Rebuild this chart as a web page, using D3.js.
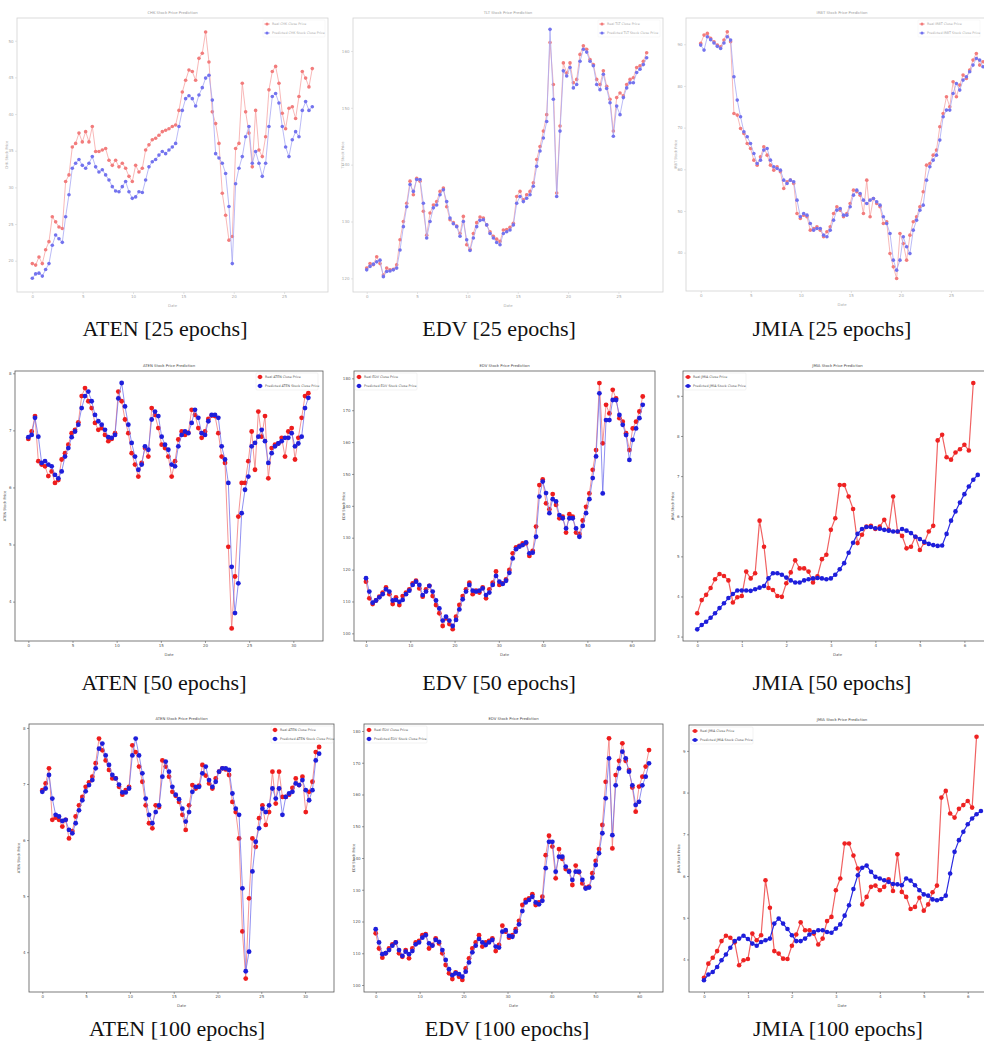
<!DOCTYPE html>
<html><head><meta charset="utf-8">
<script src="https://cdn.jsdelivr.net/npm/d3@7"></script>
<style>body{margin:0;background:#fff} svg{display:block}</style>
</head><body><svg id="c" width="984" height="1041"></svg>
<script>
// ---------- tick labels ----------
const xTicks25 = [0,5,10,15,20,25];
const xTicksATEN = [0,5,10,15,20,25,30];
const xTicksEDV = [0,10,20,30,40,50,60];
const xTicksJMIA = [0,1,2,3,4,5,6];
const yTicksCHK = [20,25,30,35,40,45,50];
const yTicksTLT = [120,130,140,150,160];
const yTicksIRBT = [40,50,60,70,80,90];
const yTicksATEN = [4,5,6,7,8];
const yTicksEDV = [100,110,120,130,140,150,160,170,180];
const yTicksJMIA50 = [3,4,5,6,7,8,9];
const yTicksJMIA100 = [4,5,6,7,8,9];

// ---------- series (values, evenly spaced dates) ----------
const aten25Real = [19.6,19.4,20.5,19.6,21.5,22.6,26.0,25.3,24.6,24.4,30.8,31.7,35.5,36.0,37.4,36.2,37.6,36.2,38.3,34.9,34.9,35.1,35.3,33.7,33.0,33.7,32.8,33.3,32.6,31.5,30.8,33.0,32.1,32.6,35.1,35.8,36.5,36.7,37.1,37.6,37.8,38.0,38.3,38.5,40.5,43.0,44.6,46.0,45.8,44.6,47.6,48.3,51.2,47.1,40.3,38.7,36.0,29.2,26.2,22.8,23.3,35.3,36.0,44.2,40.3,37.4,32.8,40.5,35.1,34.2,36.9,43.3,45.8,46.5,44.2,40.1,38.0,40.8,41.0,39.4,42.4,45.8,44.9,43.7,46.2];
const aten25Pred = [17.6,18.2,18.3,17.9,18.8,19.6,22.1,23.5,23.0,22.5,26.0,29.0,32.6,33.3,33.8,33.0,32.6,33.3,34.2,32.8,32.1,32.4,31.7,31.0,30.1,29.5,29.4,30.1,30.8,29.4,28.5,28.7,29.4,29.3,31.0,32.8,33.5,33.8,34.4,34.9,34.6,35.1,35.5,36.0,38.3,40.5,42.1,42.5,42.1,41.1,42.6,43.6,44.9,45.3,41.9,34.6,34.0,33.3,31.9,27.4,19.6,30.5,32.6,34.2,36.9,38.3,33.3,34.9,33.3,31.5,33.3,38.3,42.4,42.8,41.5,38.3,35.5,34.2,36.5,37.6,36.9,40.5,41.7,40.5,41.0];

const edv25Real = [121.8,122.6,122.4,123.8,122.6,120.6,121.8,121.5,121.6,122.4,126.8,130.0,133.2,137.1,134.7,137.6,137.1,131.8,127.6,131.5,132.9,133.5,135.3,135.9,132.6,130.3,129.8,129.2,127.9,130.9,125.9,125.1,127.9,129.8,130.8,130.6,129.4,128.2,127.4,126.9,126.5,128.5,128.6,129.0,129.7,134.4,135.3,133.8,134.7,135.3,136.8,140.9,143.2,145.9,148.8,161.5,154.1,135.0,146.8,157.9,156.1,157.9,154.4,155.0,159.4,160.9,160.3,158.5,157.6,155.0,154.1,156.5,153.8,151.5,145.9,151.8,152.6,152.1,154.1,155.0,155.3,157.1,157.4,158.2,159.7];
const edv25Pred = [121.5,122.1,122.5,122.9,123.2,120.3,121.2,121.3,121.5,121.8,125.0,129.1,132.6,136.5,135.3,137.4,137.4,133.2,127.1,130.0,132.4,132.9,134.7,135.6,133.5,130.6,129.6,129.1,127.4,130.0,126.8,124.9,127.1,129.1,130.2,130.3,129.4,127.9,127.1,126.3,125.9,127.9,128.2,128.5,129.4,133.2,134.4,133.5,134.1,134.7,136.2,139.7,142.4,144.7,147.6,163.8,151.5,134.4,145.9,156.5,155.6,157.1,153.5,154.1,158.2,160.3,159.8,158.2,157.4,154.1,153.2,155.9,153.4,150.9,145.0,150.3,148.8,151.8,153.5,154.4,154.4,156.2,156.8,157.6,158.8];

const jmia25Real = [90.2,92.2,92.6,91.4,90.6,89.8,89.4,91.0,93.0,90.6,73.4,73.0,69.8,68.6,66.2,65.0,62.2,61.0,63.0,65.4,63.4,61.0,59.8,60.6,59.4,55.4,57.0,57.4,56.6,49.4,48.2,49.0,48.6,45.4,45.8,46.2,45.4,43.8,45.0,46.2,49.4,51.0,50.2,48.6,49.4,51.8,55.0,54.6,53.8,49.4,57.4,48.6,53.0,51.8,51.0,47.0,47.4,39.8,36.6,33.8,44.6,42.2,38.2,44.2,47.4,48.6,51.0,54.6,61.0,61.4,63.4,64.6,70.2,73.4,77.4,75.0,81.0,77.4,80.2,82.6,81.8,83.8,86.2,87.8,85.0,85.8];
const jmia25Pred = [89.8,88.6,91.8,91.1,90.3,89.5,89.0,90.3,91.8,91.0,82.2,76.6,72.6,69.0,67.8,66.2,63.8,61.4,62.2,64.6,65.0,62.2,60.6,60.2,59.8,57.4,56.6,57.4,57.0,52.6,48.6,49.4,49.0,47.0,45.4,45.8,45.8,44.2,43.8,45.4,47.8,50.2,50.6,49.0,49.0,51.0,53.8,55.0,54.2,52.6,51.8,52.6,53.0,52.2,51.4,48.6,47.0,44.6,38.2,35.8,38.2,43.8,41.4,39.8,45.4,47.8,50.2,51.4,57.4,60.6,62.2,63.4,67.0,72.6,74.2,74.2,78.2,80.6,79.0,81.4,82.2,83.4,85.0,86.6,86.2,84.6];

const aten50Real = [6.85,6.98,7.25,6.46,6.40,6.37,6.20,6.28,6.08,6.13,6.49,6.60,6.75,6.95,7.01,7.14,7.60,7.74,7.51,7.39,7.13,7.01,7.04,6.92,6.81,6.85,6.95,7.68,7.51,7.19,6.95,6.60,6.40,6.19,6.43,6.69,6.54,7.39,7.27,7.04,6.75,6.69,6.54,6.19,6.46,6.84,6.98,6.92,6.96,7.36,7.27,7.04,6.87,6.98,7.20,7.26,7.25,6.95,6.54,6.43,4.96,3.53,4.44,5.49,6.08,6.08,6.46,6.98,6.31,7.33,6.89,7.25,6.16,6.69,6.75,6.77,6.87,6.54,6.98,7.04,6.49,6.87,7.22,7.60,7.65];
const aten50Pred = [6.88,6.92,7.22,6.89,6.43,6.46,6.40,6.37,6.22,6.16,6.28,6.54,6.69,6.88,6.98,7.10,7.39,7.60,7.68,7.51,7.27,7.16,7.10,7.01,6.88,6.87,6.92,7.56,7.83,7.42,7.10,6.78,6.54,6.31,6.40,6.72,6.66,7.19,7.33,7.25,6.89,6.75,6.66,6.40,6.37,6.72,6.92,6.98,6.95,7.13,7.36,7.22,6.95,6.92,7.16,7.27,7.27,7.22,6.72,6.49,6.08,4.61,3.80,4.32,5.55,5.96,6.19,6.72,6.78,6.89,7.01,6.81,6.43,6.60,6.72,6.77,6.81,6.87,6.87,6.95,6.72,6.77,6.89,7.39,7.57];

const edv50Real = [116.2,111.0,109.2,110.3,111.5,112.8,114.4,112.3,109.2,111.3,108.9,111.7,112.8,113.8,115.7,116.5,114.1,111.5,113.8,114.9,111.7,108.9,106.3,102.3,104.7,102.9,101.3,105.2,108.9,111.7,113.8,115.9,112.3,113.4,112.8,114.4,111.0,113.8,115.9,119.4,115.2,115.7,116.9,119.9,125.1,127.0,127.4,128.2,128.2,124.3,125.9,133.5,146.5,148.3,140.8,138.9,143.7,140.3,136.1,136.6,131.6,137.4,136.6,131.6,131.2,135.4,139.7,143.9,151.3,157.5,178.5,159.6,171.7,169.0,176.4,173.7,167.5,166.4,162.8,157.5,164.3,166.4,169.6,174.3];
const edv50Pred = [117.3,113.1,109.6,110.3,111.3,112.3,113.8,113.1,110.3,110.5,109.9,110.5,112.3,113.4,115.2,116.2,115.2,112.0,113.1,114.9,113.1,110.3,107.8,104.0,105.2,104.0,102.3,104.2,107.5,110.7,113.1,115.2,113.4,113.1,113.4,114.1,112.0,112.8,115.2,118.0,116.2,115.5,116.5,119.0,123.5,126.4,127.2,127.7,128.5,125.1,125.3,130.3,142.9,147.6,144.0,137.7,142.1,141.4,137.1,136.1,132.9,136.1,136.1,132.9,130.3,133.7,137.7,142.1,148.7,155.5,175.3,143.9,166.9,166.9,173.2,173.2,168.5,165.4,162.2,154.4,160.7,164.3,167.5,171.7];

const jmia50Real = [3.58,3.91,4.04,4.21,4.43,4.56,4.51,4.40,3.85,3.98,4.01,4.62,4.45,4.58,5.89,5.24,4.21,4.16,4.01,3.99,4.33,4.60,4.90,4.70,4.70,4.62,4.35,4.50,4.93,5.04,5.66,5.95,6.78,6.78,6.49,6.18,5.33,5.54,5.74,5.76,5.68,5.74,5.91,5.66,6.49,5.62,5.51,5.20,5.24,5.49,5.16,5.34,5.62,5.76,7.89,8.03,7.47,7.41,7.59,7.67,7.78,7.64,9.32];
const jmia50Pred = [3.18,3.29,3.37,3.47,3.58,3.71,3.83,3.96,4.06,4.15,4.15,4.15,4.14,4.18,4.22,4.26,4.45,4.58,4.58,4.54,4.47,4.40,4.35,4.35,4.40,4.43,4.45,4.46,4.45,4.43,4.45,4.54,4.68,4.83,5.09,5.34,5.56,5.68,5.73,5.73,5.70,5.69,5.66,5.64,5.62,5.62,5.68,5.64,5.58,5.49,5.43,5.36,5.31,5.28,5.26,5.27,5.56,5.89,6.12,6.34,6.55,6.74,6.91,7.03];

const aten100Real = [6.89,7.01,7.28,6.36,6.40,6.36,6.24,6.36,6.03,6.16,6.42,6.62,6.77,6.95,7.03,7.13,7.37,7.81,7.60,7.42,7.25,7.10,7.10,6.95,6.81,6.89,6.95,7.69,7.57,7.31,7.04,6.62,6.30,6.21,6.62,6.59,7.42,7.31,7.13,6.86,6.79,6.68,6.45,6.18,6.62,6.98,6.92,6.97,7.34,7.15,7.01,6.92,7.10,7.22,7.28,7.26,7.16,6.68,6.50,6.03,4.37,3.53,4.96,6.03,5.88,6.39,6.62,6.27,6.50,7.22,6.65,7.22,6.77,6.77,6.81,6.93,7.10,6.98,7.13,6.50,6.86,7.04,7.57,7.66];
const aten100Pred = [6.86,6.92,7.16,6.74,6.45,6.42,6.34,6.36,6.18,6.12,6.30,6.53,6.71,6.87,6.98,7.07,7.28,7.63,7.72,7.51,7.34,7.16,7.10,6.99,6.85,6.85,6.92,7.51,7.81,7.51,7.19,6.74,6.45,6.30,6.50,6.62,7.13,7.40,7.22,6.95,6.81,6.73,6.56,6.33,6.50,6.86,6.95,6.95,7.19,7.31,7.07,6.95,7.04,7.22,7.28,7.28,7.25,6.83,6.56,6.45,5.14,3.66,4.01,5.44,5.97,6.21,6.56,6.50,6.62,6.92,6.74,6.92,6.45,6.77,6.83,6.86,7.01,6.98,7.07,6.89,6.71,6.89,7.42,7.54];

const edv100Real = [116.3,111.5,108.6,110.0,111.5,112.8,113.4,110.0,108.9,111.0,108.4,111.5,113.4,113.9,115.7,116.0,111.5,112.6,114.7,113.1,110.0,106.3,103.7,101.9,104.0,102.6,101.6,105.2,108.4,111.5,113.4,115.7,112.1,113.4,113.9,114.7,110.7,112.6,118.7,116.8,114.9,115.7,117.6,120.2,125.2,126.8,127.3,128.6,125.2,126.0,127.8,140.9,147.0,143.6,133.6,142.8,139.7,136.5,135.9,131.5,137.6,135.5,132.0,130.7,131.0,135.2,139.1,142.8,150.4,164.0,177.7,143.0,166.1,170.6,176.1,170.6,167.7,162.2,154.6,162.5,165.6,168.8,174.0];
const edv100Pred = [117.6,113.4,109.7,110.0,111.0,112.4,113.4,111.0,109.2,110.5,109.7,110.7,112.8,113.4,114.9,115.7,113.1,112.4,114.2,113.6,111.0,107.9,105.0,103.1,103.7,103.4,102.6,104.2,107.1,110.3,112.4,114.5,113.4,112.6,113.4,114.2,112.1,111.8,116.8,117.3,115.5,115.2,116.8,119.1,123.3,126.0,126.8,127.8,126.0,125.4,126.5,136.8,145.1,145.1,135.7,140.4,140.4,137.3,135.7,133.1,135.7,135.7,133.1,130.4,130.7,133.8,137.8,141.5,147.8,158.8,171.4,147.2,162.9,168.2,173.5,171.4,167.2,162.9,156.7,157.7,162.9,165.6,169.8];

const jmia100Real = [3.56,3.90,4.04,4.20,4.44,4.57,4.52,4.41,3.86,3.98,4.01,4.62,4.46,4.58,5.90,5.24,4.20,4.14,4.02,4.01,4.33,4.60,4.89,4.70,4.70,4.62,4.36,4.50,4.92,5.02,5.66,5.94,6.78,6.78,6.49,6.18,5.32,5.50,5.74,5.77,5.66,5.74,5.92,5.64,6.52,5.62,5.50,5.21,5.26,5.48,5.17,5.32,5.61,5.77,7.88,8.04,7.50,7.40,7.61,7.70,7.80,7.64,9.34];
const jmia100Pred = [3.50,3.64,3.70,3.82,3.98,4.12,4.28,4.44,4.50,4.57,4.49,4.38,4.33,4.42,4.46,4.50,4.86,4.98,4.86,4.73,4.58,4.44,4.44,4.50,4.60,4.66,4.70,4.70,4.66,4.64,4.74,4.84,5.05,5.30,5.69,6.02,6.20,6.25,6.10,5.98,5.94,5.90,5.86,5.81,5.80,5.78,5.94,5.89,5.78,5.66,5.56,5.53,5.44,5.42,5.45,5.53,6.06,6.58,6.86,7.06,7.24,7.38,7.48,7.56];

// ---------- panel layout ----------
const panels = [
  {tk:'CHK', real:aten25Real, pred:aten25Pred, rx:[0,27.8], px:[0,27.8], xt:xTicks25, yt:yTicksCHK, box:[17,18,328,292], xd:[-1.52,29.36], yd:[15.73,53.1], row:1, leg:'right', legOff:61, cap:'ATEN [25 epochs]', capX:165, capY:336},
  {tk:'TLT', real:edv25Real, pred:edv25Pred, rx:[0,27.8], px:[0,27.8], xt:xTicks25, yt:yTicksTLT, box:[353,18,663,292], xd:[-1.36,29.42], yd:[117.6,165.8], row:1, leg:'right', legOff:61, cap:'EDV [25 epochs]', capX:499, capY:336},
  {tk:'IRBT', real:jmia25Real, pred:jmia25Pred, rx:[0,28.2], px:[0,28.2], xt:xTicks25, yt:yTicksIRBT, box:[686,18,998,291], xd:[-1.47,29.7], yd:[30.8,96.3], row:1, leg:'right', legOff:76, cap:'JMIA [25 epochs]', capX:832, capY:336},
  {tk:'ATEN', real:aten50Real, pred:aten50Pred, rx:[0,31.7], px:[0,31.7], xt:xTicksATEN, yt:yTicksATEN, box:[15,371,323,641], xd:[-1.51,33.36], yd:[3.31,8.04], row:2, leg:'right', legOff:63, cap:'ATEN [50 epochs]', capX:164, capY:690},
  {tk:'EDV', real:edv50Real, pred:edv50Pred, rx:[0,62.5], px:[0,62.5], xt:xTicksEDV, yt:yTicksEDV, box:[354,371,655,641], xd:[-2.71,65.27], yd:[97.6,182.3], row:2, leg:'left', legOff:5, cap:'EDV [50 epochs]', capX:499, capY:690},
  {tk:'JMIA', real:jmia50Real, pred:jmia50Pred, rx:[0,6.2], px:[0,6.3], xt:xTicksJMIA, yt:yTicksJMIA50, box:[683,371,992,641], xd:[-0.32,6.62], yd:[2.89,9.62], row:2, leg:'left', legOff:5, sparse:true, cap:'JMIA [50 epochs]', capX:832, capY:690},
  {tk:'ATEN', real:aten100Real, pred:aten100Pred, rx:[0,31.6], px:[0,31.6], xt:xTicksATEN, yt:yTicksATEN, box:[29,724,334,992], xd:[-1.52,33.3], yd:[3.29,8.07], row:3, leg:'right', legOff:59, cap:'ATEN [100 epochs]', capX:177, capY:1036},
  {tk:'EDV', real:edv100Real, pred:edv100Pred, rx:[0,62.2], px:[0,62.2], xt:xTicksEDV, yt:yTicksEDV, box:[364,724,663,992], xd:[-2.66,65.38], yd:[97.8,182.2], row:3, leg:'left', legOff:5, cap:'EDV [100 epochs]', capX:507, capY:1036},
  {tk:'JMIA', real:jmia100Real, pred:jmia100Pred, rx:[0,6.2], px:[0,6.3], xt:xTicksJMIA, yt:yTicksJMIA100, box:[689,725,995,992], xd:[-0.34,6.62], yd:[3.22,9.62], row:3, leg:'left', legOff:6, sparse:true, cap:'JMIA [100 epochs]', capX:838, capY:1036}
];

const styles = {
  faded: {frame:'#d2d2d2', text:'#aaaaaa', title:'#9a9a9a', red:'#f27c7c', redLine:'#f6a6a6', blue:'#7373ee', blueLine:'#a8a8f4', r:1.8, lw:0.8},
  bold:  {frame:'#5a5a5a', text:'#555555', title:'#444444', red:'#ee1d1d', redLine:'#f27a7a', blue:'#1e1edb', blueLine:'#7474ee', r:2.4, lw:0.8},
  sparse:{frame:'#5a5a5a', text:'#555555', title:'#444444', red:'#ee2222', redLine:'#f06262', blue:'#1e1edb', blueLine:'#2b2be0', r:2.3, lw:1.2}
};

const svg = d3.select('#c');
const FONT = 'DejaVu Sans, sans-serif';
const fmt = d3.format('~g');

panels.forEach((p, pi) => {
  const [L,T,R,B] = p.box;
  const st = p.row === 1 ? styles.faded : (p.sparse ? styles.sparse : styles.bold);
  const x = d3.scaleLinear().domain(p.xd).range([L,R]);
  const y = d3.scaleLinear().domain(p.yd).range([B,T]);
  const g = svg.append('g');

  g.append('clipPath').attr('id','clip'+pi).append('rect')
    .attr('x',L).attr('y',T).attr('width',R-L).attr('height',B-T);

  // frame
  g.append('rect').attr('x',L).attr('y',T).attr('width',R-L).attr('height',B-T)
    .attr('fill','#fff').attr('stroke',st.frame).attr('stroke-width',0.8);

  // axes
  const ax = g.append('g').attr('transform',`translate(0,${B})`)
    .call(d3.axisBottom(x).tickValues(p.xt).tickFormat(fmt).tickSize(2).tickPadding(1.5));
  const ay = g.append('g').attr('transform',`translate(${L},0)`)
    .call(d3.axisLeft(y).tickValues(p.yt).tickFormat(fmt).tickSize(2).tickPadding(1.5));
  [ax,ay].forEach(a => {
    a.select('.domain').remove();
    a.selectAll('line').attr('stroke',st.frame).attr('stroke-width',0.6);
    a.selectAll('text').attr('fill',st.text).style('font-size','4px').style('font-family',FONT);
  });

  // titles & labels
  g.append('text').attr('x',(L+R)/2).attr('y',T-4).attr('text-anchor','middle')
    .attr('fill',st.title).style('font-size','3.8px').style('font-family',FONT)
    .text(p.tk + ' Stock Price Prediction');
  g.append('text').attr('x',(L+R)/2).attr('y',B+14.5).attr('text-anchor','middle')
    .attr('fill',st.text).style('font-size','3.8px').style('font-family',FONT).text('Date');
  g.append('text').attr('transform',`translate(${L-9},${(T+B)/2}) rotate(-90)`).attr('text-anchor','middle')
    .attr('fill',st.text).style('font-size','3.6px').style('font-family',FONT).text(p.tk + ' Stock Price');

  // series
  const plot = g.append('g').attr('clip-path',`url(#clip${pi})`);
  const drawSeries = (vals, xr, color, lineColor) => {
    const step = (xr[1]-xr[0])/(vals.length-1);
    const pts = vals.map((v,i) => [xr[0]+i*step, v]);
    plot.append('path').datum(pts)
      .attr('d', d3.line().x(d=>x(d[0])).y(d=>y(d[1])))
      .attr('fill','none').attr('stroke',lineColor).attr('stroke-width',st.lw);
    plot.append('g').selectAll('circle').data(pts).join('circle')
      .attr('cx',d=>x(d[0])).attr('cy',d=>y(d[1])).attr('r',st.r).attr('fill',color);
  };
  drawSeries(p.real, p.rx, st.red, st.redLine);
  drawSeries(p.pred, p.px, st.blue, st.blueLine);

  // legend
  const mx = p.leg === 'right' ? R - p.legOff : L + p.legOff;
  const items = [['Real '+p.tk+' Close Price', st.red, st.redLine], ['Predicted '+p.tk+' Stock Close Price', st.blue, st.blueLine]];
  const lg = g.append('g');
  lg.append('rect').attr('x',mx-4).attr('y',T+2).attr('width',62).attr('height',17)
    .attr('fill','#fff').attr('fill-opacity',0.8).attr('stroke', p.row===1 ? '#eeeeee' : '#dddddd').attr('stroke-width',0.4).attr('rx',1);
  items.forEach((it,k) => {
    const yy = T + 6 + k*9;
    lg.append('line').attr('x1',mx-3).attr('x2',mx+3).attr('y1',yy).attr('y2',yy).attr('stroke',it[2]).attr('stroke-width',st.lw);
    lg.append('circle').attr('cx',mx).attr('cy',yy).attr('r',st.r*0.9).attr('fill',it[1]);
    lg.append('text').attr('x',mx+5).attr('y',yy+1.2).attr('fill',st.text)
      .style('font-size','3.3px').style('font-family',FONT).text(it[0]);
  });

  // caption
  svg.append('text').attr('x',p.capX).attr('y',p.capY).attr('text-anchor','middle')
    .attr('fill','#111').style('font-size','22px').style('font-family','Liberation Serif, Times New Roman, serif')
    .text(p.cap);
});
</script></body></html>
